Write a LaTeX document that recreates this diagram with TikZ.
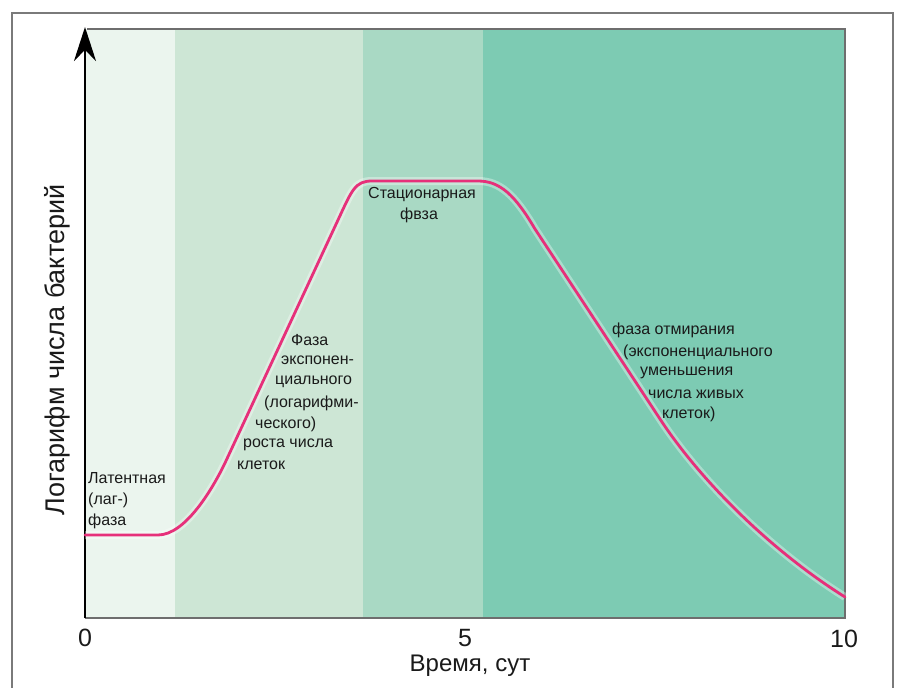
\documentclass[tikz,border=0pt]{standalone}
\usepackage{fontspec}
\setmainfont{Liberation Sans}
\usetikzlibrary{arrows.meta}
\definecolor{bandA}{HTML}{EBF5EE}
\definecolor{bandB}{HTML}{CDE6D5}
\definecolor{bandC}{HTML}{A9D9C4}
\definecolor{bandD}{HTML}{7DCBB3}
\definecolor{curvec}{HTML}{E6307A}
\definecolor{framec}{HTML}{7A7A7A}
\definecolor{txt}{HTML}{1A1A1A}
\begin{document}
\begin{tikzpicture}[x=1pt,y=-1pt,
  lbl/.style={anchor=west,inner sep=0pt,font=\fontsize{16}{19}\selectfont,text=txt},
  ticklbl/.style={inner sep=0pt,font=\fontsize{25}{28}\selectfont,text=txt},
  axlbl/.style={inner sep=0pt,font=\fontsize{24}{28}\selectfont,text=txt},
  framebox/.style={draw=framec,line width=2pt},
  plotborder/.style={draw=framec!90!black,line width=2pt},
  growth/.style={draw=curvec,line width=2.8pt,line join=round,line cap=round}]
\useasboundingbox (0,0) rectangle (898,688);
\fill[white] (0,0) rectangle (898,688);
% outer frame
\draw[framebox] (12,700) -- (12,13) -- (893,13) -- (893,700);
% bands
\fill[bandA] (85,29) rectangle (175,618);
\fill[bandB] (175,29) rectangle (363,618);
\fill[bandC] (363,29) rectangle (483,618);
\fill[bandD] (483,29) rectangle (845,618);
% plot border
\coordinate (tl) at (87,29);
\coordinate (tr) at (845,29);
\coordinate (br) at (845,618);
\coordinate (o) at (85,618);
\coordinate (ytop) at (85,27);
\draw[plotborder] (tl) -- (tr) -- (br) -- (o);
% axis
\draw[line width=2pt,-{Stealth[length=34pt,width=22pt]}] (o) -- (ytop);
% curve halo
\draw[white,opacity=0.35,line width=8pt,line join=round]
  (85,535) -- (158,535) .. controls (185,535) and (212,490) .. (225,463)
  -- (338,220) .. controls (352,190) and (355,181) .. (372,181)
  -- (478,181) .. controls (500,181) and (515,195) .. (535,229)
  -- (660,419) .. controls (700,480) and (770,550) .. (845,597);
% curve
\draw[growth]
  (85,535) -- (158,535) .. controls (185,535) and (212,490) .. (225,463)
  -- (338,220) .. controls (352,190) and (355,181) .. (372,181)
  -- (478,181) .. controls (500,181) and (515,195) .. (535,229)
  -- (660,419) .. controls (700,480) and (770,550) .. (845,597);
% tick labels
\node[ticklbl] (t0) at (85,638) {0};
\node[ticklbl] (t5) at (465,638) {5};
\node[ticklbl] (t10) at (844,639) {10};
\node[axlbl] (xl) at (470,666) {Время, сут};
\node[axlbl,font=\fontsize{27}{30}\selectfont,rotate=90] (yl) at (57,350) {Логарифм числа бактерий};
% lag phase
\node[lbl] (lag1) at (88,478) {Латентная};
\node[lbl] (lag2) at (88,500) {(лаг-)};
\node[lbl] (lag3) at (88,521) {фаза};
% exponential phase
\node[lbl] (e1) at (291,340) {Фаза};
\node[lbl] (e2) at (281,360) {экспонен-};
\node[lbl] (e3) at (275,382) {циального};
\node[lbl] (e4) at (264,403) {(логарифми-};
\node[lbl] (e5) at (255,424) {ческого)};
\node[lbl] (e6) at (243,445) {роста числа};
\node[lbl] (e7) at (237,465) {клеток};
% stationary
\node[lbl] (s1) at (368,195) {Стационарная};
\node[lbl] (s2) at (400,215) {фвза};
% death
\node[lbl] (d1) at (612,330) {фаза отмирания};
\node[lbl] (d2) at (623,352) {(экспоненциального};
\node[lbl] (d3) at (640,373) {уменьшения};
\node[lbl] (d4) at (648,394) {числа живых};
\node[lbl] (d5) at (662,414) {клеток)};
\end{tikzpicture}
\end{document}
